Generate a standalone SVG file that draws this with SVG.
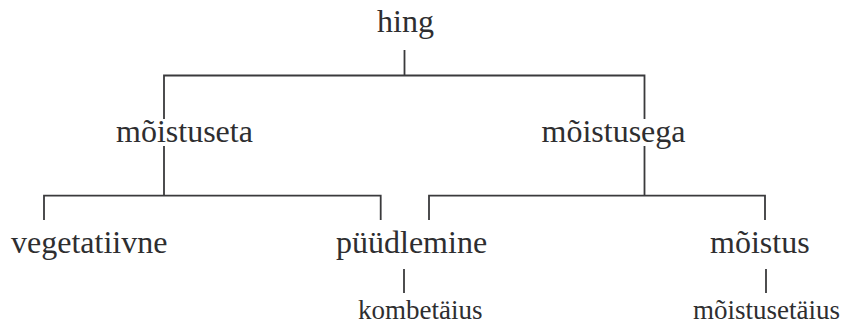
<svg xmlns="http://www.w3.org/2000/svg" width="842" height="329" viewBox="0 0 842 329">
  <style>
    .lbl { font-family: "Liberation Serif", "Times New Roman", serif; font-size: 32px; fill: #2e2e30; }
    .sm { font-size: 27px; }
    .edge { stroke: #3a3a3c; stroke-width: 1.8; fill: none; stroke-linecap: square; }
  </style>
  <rect width="842" height="329" fill="#ffffff"/>

  <g id="connectors">
    <!-- hing -> level 1 -->
    <path class="edge" d="M404.5 51 V75.5 M164 118 V75.5 H644.5 V118"/>
    <!-- mõistuseta -> children -->
    <path class="edge" d="M164 147 V195.7 M44 219 V195.7 H380.7 V219"/>
    <!-- mõistusega -> children -->
    <path class="edge" d="M644.5 147 V195.7 M429 219 V195.7 H765 V219"/>
    <!-- leaf links -->
    <path class="edge" d="M404 270 V292"/>
    <path class="edge" d="M766 270 V292"/>
  </g>

  <g id="node-hing"><text class="lbl" x="377" y="32">hing</text></g>
  <g id="node-moistuseta"><text class="lbl" x="116" y="142">mõistuseta</text></g>
  <g id="node-moistusega"><text class="lbl" x="541.5" y="142">mõistusega</text></g>
  <g id="node-vegetatiivne"><text class="lbl" x="11" y="253">vegetatiivne</text></g>
  <g id="node-puudlemine"><text class="lbl" x="336" y="253">püüdlemine</text></g>
  <g id="node-moistus"><text class="lbl" x="710" y="253">mõistus</text></g>
  <g id="node-kombetaius"><text class="lbl sm" x="358" y="319">kombetäius</text></g>
  <g id="node-moistusetaius"><text class="lbl sm" x="693" y="319">mõistusetäius</text></g>
</svg>
